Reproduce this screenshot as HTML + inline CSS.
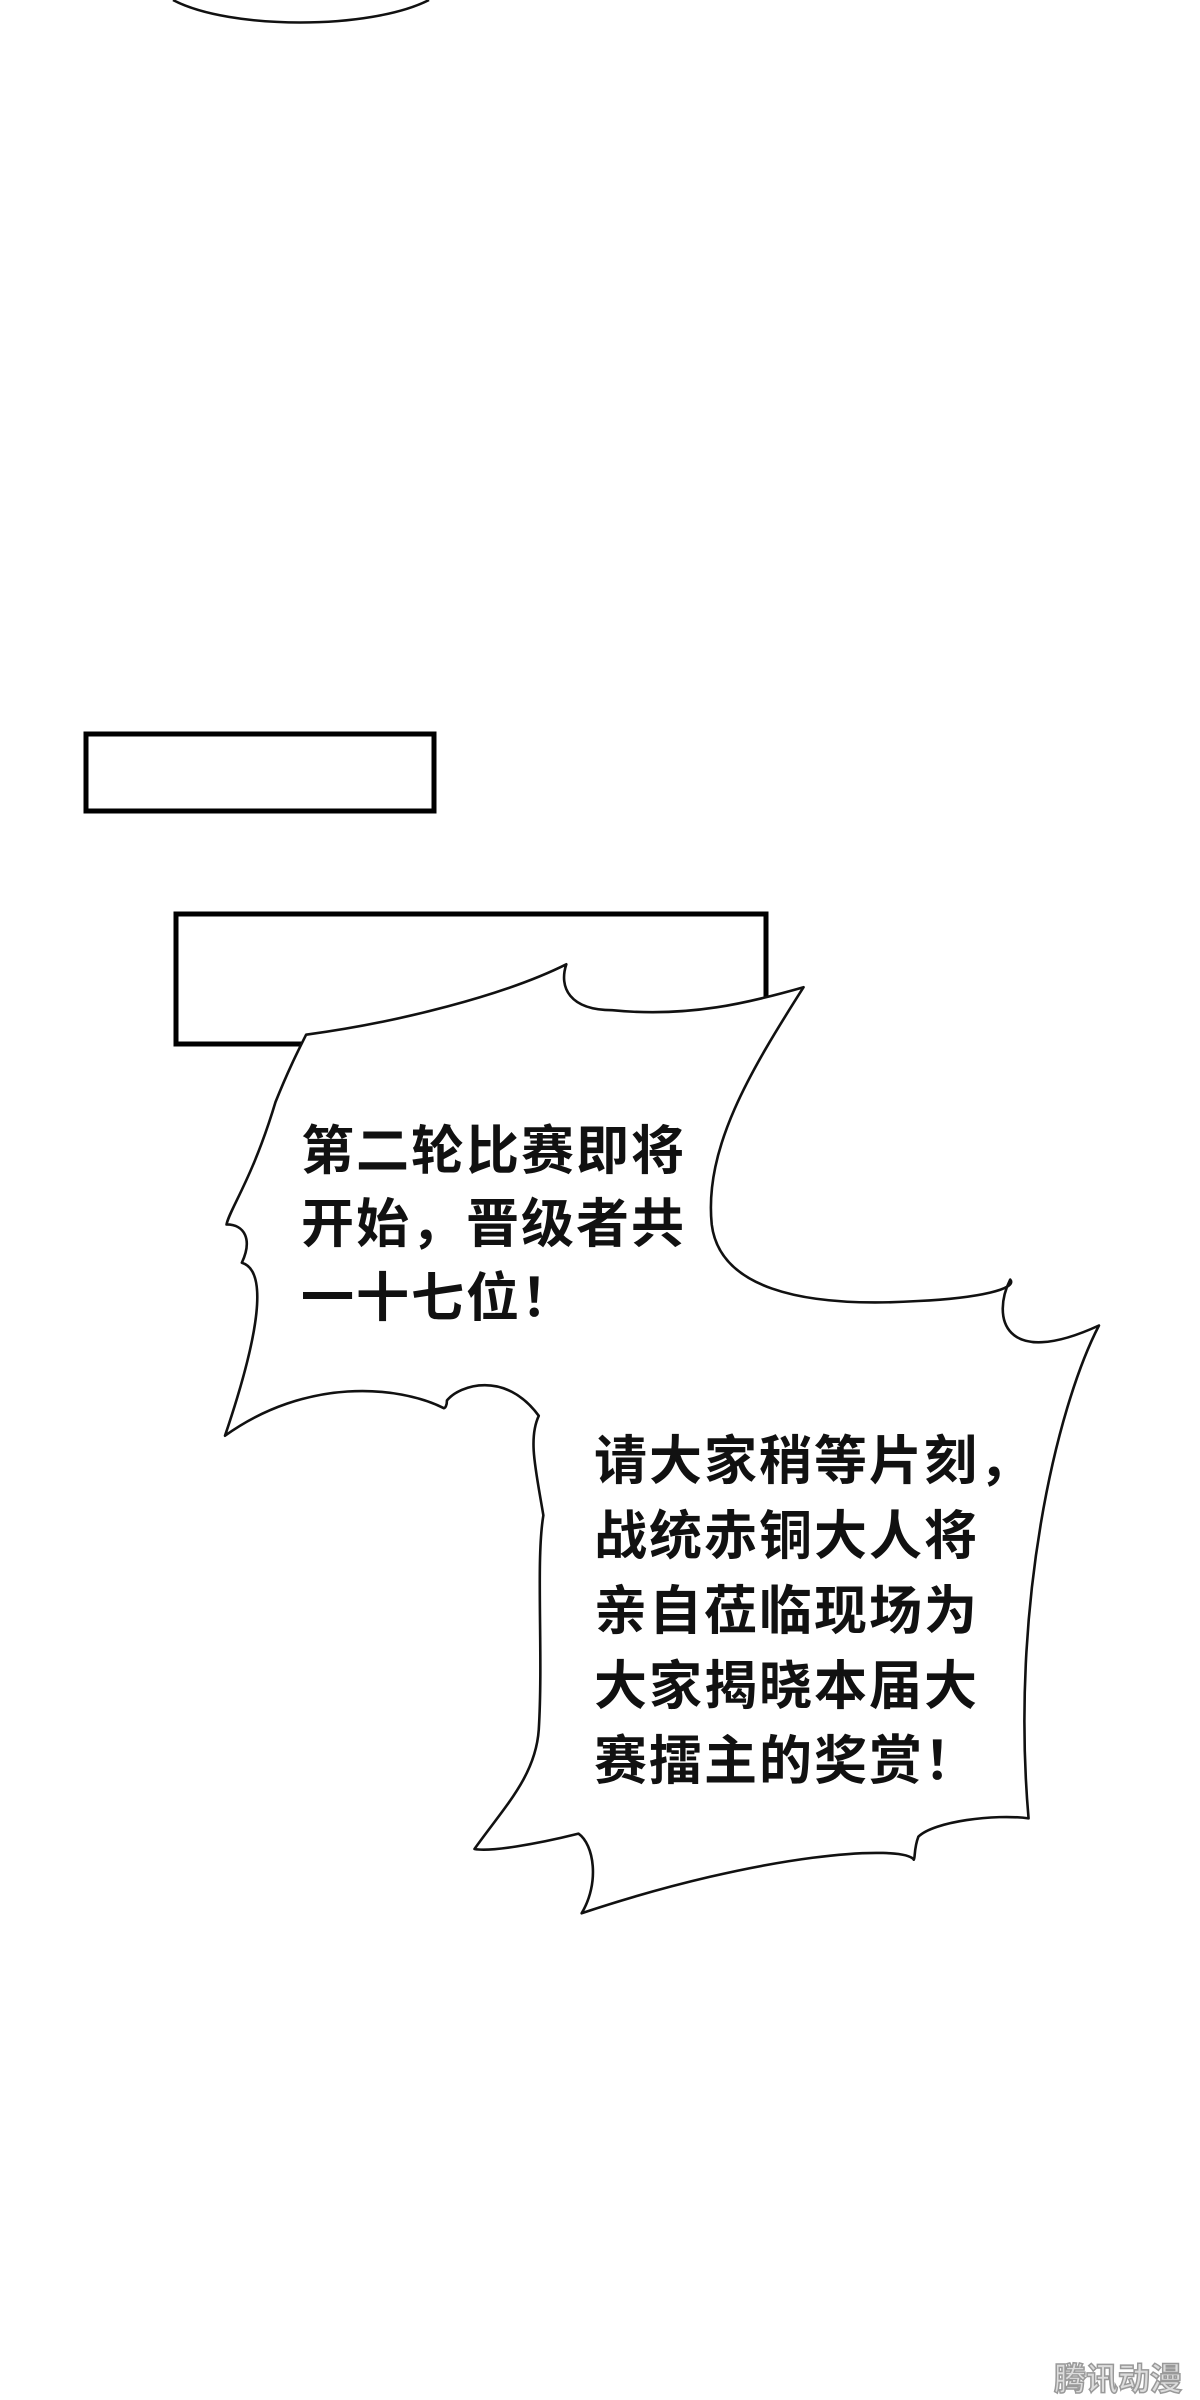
<!DOCTYPE html>
<html><head><meta charset="utf-8"><style>
html,body{margin:0;padding:0;background:#fff}
svg{display:block}
text{font-family:"Liberation Sans","Noto Sans CJK SC",sans-serif;font-weight:bold;fill:#111}
</style></head><body>
<svg width="1200" height="2400" viewBox="0 0 1200 2400" xmlns="http://www.w3.org/2000/svg">
<rect width="1200" height="2400" fill="#fff"/>
<path d="M173,0 C230,30 370,30 429,0" fill="none" stroke="#111" stroke-width="2.5"/>
<rect x="86" y="734" width="348" height="77" fill="none" stroke="#000" stroke-width="5"/>
<rect x="176" y="914" width="590" height="130" fill="none" stroke="#000" stroke-width="5"/>
<g transform="scale(1.5306)">
<path d="M200,676 C260,668 330,650 370,630 C365,645 372,660 400,660 C450,665 490,655 525,645 C490,700 460,750 465,800 C470,840 520,855 600,850 C640,848 665,842 660,836 C648,860 655,895 718,866 C690,920 660,1050 672,1188 C650,1185 610,1190 600,1200 C597,1208 598,1214 597,1215 C590,1205 500,1210 380,1250 C392,1230 388,1205 378,1198 C350,1205 320,1210 310,1208 C330,1180 350,1160 352,1130 C355,1080 350,1020 355,990 C350,960 345,940 352,925 C330,895 300,905 292,915 C292,918 291,920 290,920 C260,905 200,900 147,938 C170,870 175,830 158,825 C165,810 160,800 148,800 C150,790 165,770 180,720 C188,700 194,688 200,676 Z" fill="#fff" stroke="#111" stroke-width="1.7" stroke-linejoin="round"/>
</g>
<g font-size="53" letter-spacing="2">
<text x="301" y="1169">第二轮比赛即将</text>
<text x="301" y="1242">开始，晋级者共</text>
<text x="301" y="1316">一十七位！</text>
<text x="594" y="1479">请大家稍等片刻，</text>
<text x="594" y="1554">战统赤铜大人将</text>
<text x="594" y="1629">亲自莅临现场为</text>
<text x="594" y="1704">大家揭晓本届大</text>
<text x="594" y="1779">赛擂主的奖赏！</text>
</g>
<text x="1054" y="2390" font-size="32" style="fill:#ddd;stroke:#999;stroke-width:1.5">腾讯动漫</text>
</svg>
</body></html>
